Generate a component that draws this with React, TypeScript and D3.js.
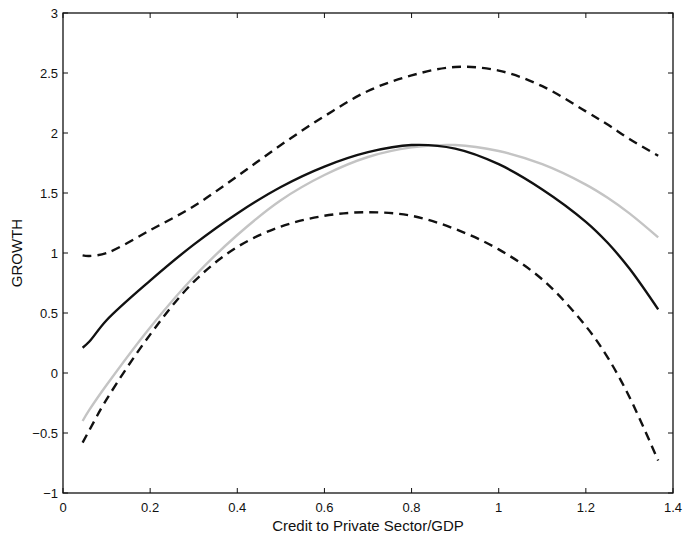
import React from "react";
import * as d3 from "d3";

const W = 684;
const H = 541;

// x grid of the estimated curves (Credit to Private Sector/GDP)
const xs = [0.045, 0.06, 0.1, 0.2, 0.3, 0.4, 0.5, 0.6, 0.7, 0.8, 0.9, 1.0, 1.1, 1.2, 1.25, 1.3, 1.366];

// point estimate (black solid)
const estimate = [0.21, 0.26, 0.44, 0.77, 1.07, 1.33, 1.55, 1.72, 1.84, 1.9, 1.87, 1.74, 1.53, 1.26, 1.085, 0.87, 0.53];
// upper band (dashed)
const upper = [0.98, 0.975, 1.0, 1.19, 1.39, 1.64, 1.9, 2.14, 2.35, 2.48, 2.55, 2.52, 2.39, 2.18, 2.07, 1.95, 1.81];
// lower band (dashed)
const lower = [-0.58, -0.48, -0.22, 0.32, 0.76, 1.05, 1.22, 1.31, 1.34, 1.31, 1.2, 1.03, 0.78, 0.39, 0.13, -0.2, -0.73];
// quadratic fit (grey)
const quadratic = [-0.4, -0.31, -0.1, 0.38, 0.8, 1.15, 1.44, 1.65, 1.8, 1.88, 1.9, 1.85, 1.74, 1.57, 1.46, 1.33, 1.13];

const xTicks = [0, 0.2, 0.4, 0.6, 0.8, 1, 1.2, 1.4];
const yTicks = [-1, -0.5, 0, 0.5, 1, 1.5, 2, 2.5, 3];

const margin = { top: 13, right: 11, bottom: 48, left: 63 };

const fmt = (v: number) => (v < 0 ? "\u2212" + String(-v) : String(v));

const App = () => {
  const x = d3.scaleLinear().domain([0, 1.4]).range([margin.left, W - margin.right]);
  const y = d3.scaleLinear().domain([-1, 3]).range([H - margin.bottom, margin.top]);

  const line = d3
    .line<number>()
    .x((d, i) => x(xs[i]))
    .y(d => y(d))
    .curve(d3.curveCatmullRom);

  const [x0, x1] = x.range();
  const [y0, y1] = y.range();
  const tick = 5;
  const font = "'Liberation Sans', Arial, Helvetica, sans-serif";

  return (
    <div style={{ position: "absolute", left: 0, top: 0 }}>
      <svg width={W} height={H} style={{ display: "block", background: "#fff" }}>
        <path d={line(quadratic) || ""} fill="none" stroke="#c4c4c4" strokeWidth={2.4} />
        <path d={line(estimate) || ""} fill="none" stroke="#111" strokeWidth={2.4} />
        <path d={line(upper) || ""} fill="none" stroke="#111" strokeWidth={2.4} strokeDasharray="9,6" />
        <path d={line(lower) || ""} fill="none" stroke="#111" strokeWidth={2.4} strokeDasharray="9,6" />

        <rect x={x0} y={y1} width={x1 - x0} height={y0 - y1} fill="none" stroke="#111" strokeWidth={1.3} />

        {xTicks.map(t => (
          <g key={"x" + t}>
            <line x1={x(t)} x2={x(t)} y1={y0} y2={y0 - tick} stroke="#111" strokeWidth={1} />
            <line x1={x(t)} x2={x(t)} y1={y1} y2={y1 + tick} stroke="#111" strokeWidth={1} />
            <text x={x(t)} y={y0 + 19} textAnchor="middle" fontSize={13} fontFamily={font} fill="#111">
              {fmt(t)}
            </text>
          </g>
        ))}
        {yTicks.map(t => (
          <g key={"y" + t}>
            <line x1={x0} x2={x0 + tick} y1={y(t)} y2={y(t)} stroke="#111" strokeWidth={1} />
            <line x1={x1} x2={x1 - tick} y1={y(t)} y2={y(t)} stroke="#111" strokeWidth={1} />
            <text x={x0 - 5} y={y(t)} dy="0.35em" textAnchor="end" fontSize={13} fontFamily={font} fill="#111">
              {fmt(t)}
            </text>
          </g>
        ))}

        <text x={(x0 + x1) / 2} y={H - 10} textAnchor="middle" fontSize={15} fontFamily={font} fill="#111">
          Credit to Private Sector/GDP
        </text>
        <text
          transform={`translate(22 ${(y0 + y1) / 2}) rotate(-90)`}
          textAnchor="middle"
          fontSize={15}
          fontFamily={font}
          fill="#111"
        >
          GROWTH
        </text>
      </svg>
    </div>
  );
};

export default App;
